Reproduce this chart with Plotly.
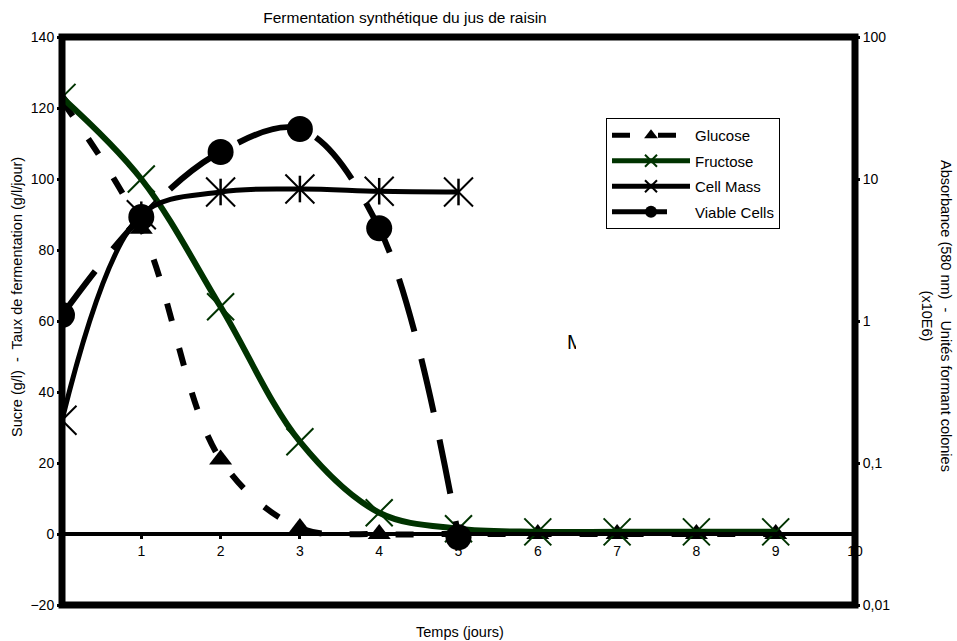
import plotly.graph_objects as go

# ---- data ----
days = [0, 1, 2, 3, 4, 5, 6, 7, 8, 9]
glucose = [122, 86, 21, 1.7, 0, 0, 0, 0, 0, 0]
fructose = [123, 100, 64, 26, 6, 1.5, 0.6, 0.6, 0.6, 0.6]
cell_days = [0, 1, 2, 3, 4, 5]
cell_mass = [0.2, 5.6, 8.1, 8.5, 8.2, 8.1]
viable_days = [0, 1, 2, 3, 4, 5]
viable_cells = [1.1, 5.4, 15.5, 22.5, 4.5, 0.03]

x_ticks = [1, 2, 3, 4, 5, 6, 7, 8, 9, 10]
y_ticks = [-20, 0, 20, 40, 60, 80, 100, 120, 140]
y2_ticks = [0.01, 0.1, 1, 10, 100]
y2_ticktext = ["0,01", "0,1", "1", "10", "100"]

title_text = "Fermentation synthétique du jus de raisin"
x_title = "Temps (jours)"
y_title = "Sucre (g/l)  -  Taux de fermentation (g/l/jour)"
y2_title = "Absorbance (580 nm)  -  Unités formant colonies<br>(x10E6)"

FONT = "Liberation Sans, Arial, sans-serif"
GREEN = "#003300"

fig = go.Figure()

fig.add_trace(go.Scatter(
    x=days, y=glucose, name="Glucose", legendgroup="g1",
    mode="lines+markers", line=dict(color="black", width=6, dash="18px,28px", shape="spline"),
    marker=dict(symbol="triangle-up", size=20, color="black"),
))
fig.add_trace(go.Scatter(
    x=days, y=fructose, name="Fructose", legendgroup="g2",
    mode="lines+markers", line=dict(color=GREEN, width=6, shape="spline"),
    marker=dict(symbol="x-thin-open", size=27, color=GREEN, line=dict(color=GREEN, width=2)),
))
fig.add_trace(go.Scatter(
    x=cell_days, y=cell_mass, name="Cell Mass", legendgroup="g3", yaxis="y2",
    mode="lines+markers", line=dict(color="black", width=5, shape="spline"),
    marker=dict(symbol="x-thin-open", size=29, color="black", line=dict(color="black", width=2)),
))
fig.add_trace(go.Scatter(
    x=cell_days, y=cell_mass, name="Cell Mass (vertical)", yaxis="y2", showlegend=False,
    mode="markers",
    marker=dict(symbol="line-ns", size=19, color="black", line=dict(color="black", width=2.5)),
))
fig.add_trace(go.Scatter(
    x=viable_days, y=viable_cells, name="Viable Cells", legendgroup="g4", yaxis="y2",
    mode="lines+markers", line=dict(color="black", width=6, dash="55px,28px", shape="spline"),
    marker=dict(symbol="circle", size=26, color="black"),
))

fig.update_layout(
    width=957, height=641,
    margin=dict(l=62, r=102, t=37, b=36),
    paper_bgcolor="white", plot_bgcolor="white",
    font=dict(family=FONT, size=14, color="black"),
    title=dict(text=title_text, x=405 / 957, y=1 - 18 / 641, xanchor="center", yanchor="middle",
               font=dict(size=15.5)),
    xaxis=dict(range=[0, 10], anchor="free", position=0.125, showgrid=False, zeroline=False,
               showline=True, linecolor="black", linewidth=4,
               tickvals=x_ticks, ticks="outside", ticklen=3, tickwidth=3, tickcolor="black",
               tickfont=dict(size=14)),
    yaxis=dict(range=[-20, 140], tickvals=y_ticks, showgrid=False, zeroline=False, showline=False,
               ticks="outside", ticklen=4, tickwidth=3, tickcolor="black", tickfont=dict(size=14)),
    yaxis2=dict(type="log", range=[-2, 2], overlaying="y", side="right", showgrid=False,
                zeroline=False, showline=False, tickvals=y2_ticks, ticktext=y2_ticktext,
                ticks="outside", ticklen=4, tickwidth=3, tickcolor="black", tickfont=dict(size=14)),
    legend=dict(x=(606 - 62) / 793, y=(605 - 118) / 568, xanchor="left", yanchor="top",
                bgcolor="white", bordercolor="black", borderwidth=1,
                font=dict(size=15), itemwidth=78, itemsizing="constant",
                traceorder="grouped", tracegroupgap=3),
    showlegend=True,
    shapes=[dict(type="rect", xref="paper", yref="paper", x0=0, x1=1, y0=0, y1=1,
                 line=dict(color="black", width=7), layer="above")],
    annotations=[
        dict(text=x_title, xref="paper", yref="paper", x=(460 - 62) / 793, y=(605 - 632) / 568,
             showarrow=False, font=dict(size=14.5), xanchor="center", yanchor="middle"),
        dict(text=y_title, xref="paper", yref="paper", x=(17 - 62) / 793, y=(605 - 297) / 568,
             showarrow=False, textangle=-90, font=dict(size=14.5), xanchor="center", yanchor="middle"),
        dict(text=y2_title, xref="paper", yref="paper", x=(937 - 62) / 793, y=(605 - 316) / 568,
             showarrow=False, textangle=90, font=dict(size=14.5), xanchor="center", yanchor="middle"),
        dict(text="M", xref="paper", yref="paper", x=(565 - 62) / 793, y=(605 - 342) / 568,
             showarrow=False, font=dict(size=20), xanchor="left", yanchor="middle",
             width=9, align="left"),
    ],
)

fig.write_html("out.html", config={"displayModeBar": False},
               post_script="document.body.style.margin='0px';")
